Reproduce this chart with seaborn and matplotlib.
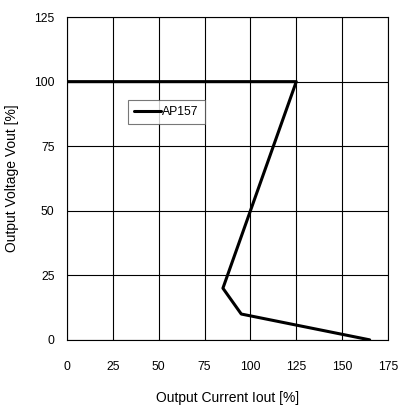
"""Output voltage vs output current foldback curve."""

import matplotlib
matplotlib.use('Agg')
import matplotlib.pyplot as plt
import pandas as pd
import seaborn as sns

current_pct = [0, 125, 85, 95, 165]
voltage_pct = [100, 100, 20, 10, 0]
series_name = 'AP157'
x_ticks = [0, 25, 50, 75, 100, 125, 150, 175]
y_ticks = [0, 25, 50, 75, 100, 125]

sns.set_style('white')
plt.rcParams['font.family'] = ['Liberation Sans', 'DejaVu Sans']
plt.rcParams['text.color'] = 'black'
plt.rcParams['axes.labelcolor'] = 'black'

df = pd.DataFrame({'Iout': current_pct, 'Vout': voltage_pct, 'name': series_name})

fig = plt.figure(figsize=(4.0, 4.07), dpi=100)
ax = fig.add_axes([0.1675, 0.165, 0.8025, 0.793])

sns.lineplot(data=df, x='Iout', y='Vout', hue='name', sort=False,
             palette=['black'], linewidth=2.2, ax=ax, zorder=3)

ax.set_xlim(0, 175)
ax.set_ylim(0, 125)
ax.set_xticks(x_ticks)
ax.set_yticks(y_ticks)
ax.grid(True, color='black', linewidth=0.8)
for s in ax.spines.values():
    s.set_color('black')
    s.set_linewidth(0.8)
ax.tick_params(axis='both', direction='out', length=3, width=0.8,
               colors='black', labelsize=8.8, pad=6)
ax.tick_params(axis='x', pad=12)

ax.set_xlabel('Output Current Iout [%]', fontsize=10, labelpad=13)
ax.set_ylabel('Output Voltage Vout [%]', fontsize=10, labelpad=11)

leg = ax.legend(loc='center left', bbox_to_anchor=(0.19, 0.706), fontsize=8.8,
                frameon=True, fancybox=False, edgecolor='#555555',
                handlelength=2.2, handletextpad=0.1, borderpad=0.5,
                borderaxespad=0)
leg.get_frame().set_linewidth(0.8)

fig.savefig('out.png', dpi=100)
plt.close(fig)
